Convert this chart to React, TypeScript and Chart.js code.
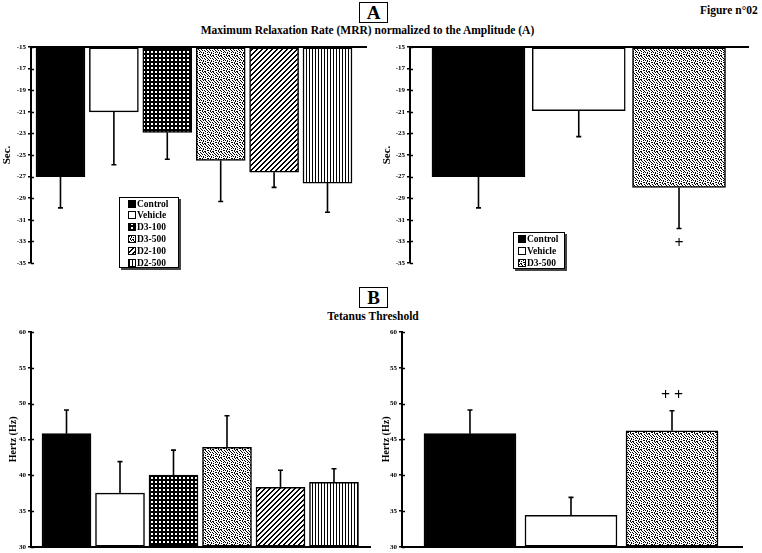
import React, { useEffect, useRef } from "react";
import { Chart, registerables } from "chart.js";

Chart.register(...registerables);

// ---------- data ----------
const groups6 = ["Control", "Vehicle", "D3-100", "D3-500", "D2-100", "D2-500"];
const groups3 = ["Control", "Vehicle", "D3-500"];

const mrrMeans6 = [-27.0, -21.0, -22.9, -25.5, -26.6, -27.6];
const mrrErrEnds6 = [-29.9, -25.9, -25.4, -29.3, -28.0, -30.3];
const mrrMeans3 = [-27.0, -20.9, -28.0];
const mrrErrEnds3 = [-29.9, -23.3, -31.8];
const mrrSig3 = ["", "", "+"];

const tetMeans6 = [45.8, 37.5, 40.0, 43.9, 38.3, 39.0];
const tetErrEnds6 = [49.1, 41.9, 43.5, 48.3, 40.7, 40.9];
const tetMeans3 = [45.8, 34.4, 46.2];
const tetErrEnds3 = [49.1, 36.9, 49.0];
const tetSig3 = ["", "", "++"];

const mrrTicks = [-15, -17, -19, -21, -23, -25, -27, -29, -31, -33, -35];
const tetTicks = [60, 55, 50, 45, 40, 35, 30];

// ---------- styles ----------
const SERIF = '"Liberation Serif", "Times New Roman", serif';

const patternRows: Record<string, string[]> = {
  "D3-100": [".XX.", "XXXX", "XXXX", ".XX."],
  "D3-500": [
    "X..X.X..",
    ".X....X.",
    "..X.X..X",
    "X....X..",
    ".X.X...X",
    "...X.X..",
    "X.X....X",
    "..X.XX..",
  ],
  "D2-100": ["XX...", "X...X", "...XX", "..XX.", ".XX.."],
  "D2-500": ["X.."],
};

function fillFor(ctx: CanvasRenderingContext2D, group: string): string | CanvasPattern {
  if (group === "Control") return "#000";
  if (group === "Vehicle") return "#fff";
  const rows = patternRows[group];
  const c = document.createElement("canvas");
  c.width = rows[0].length;
  c.height = rows.length;
  const t = c.getContext("2d")!;
  t.fillStyle = "#fff";
  t.fillRect(0, 0, c.width, c.height);
  t.fillStyle = "#000";
  rows.forEach((r, y) =>
    r.split("").forEach((ch, x) => {
      if (ch === "X") t.fillRect(x, y, 1, 1);
    })
  );
  return ctx.createPattern(c, "repeat")!;
}

const errorBarsPlugin = {
  id: "errorBars",
  afterDatasetsDraw(chart: any, _args: any, opts: any) {
    const { ctx } = chart;
    const y = chart.scales.y;
    const meta = chart.getDatasetMeta(0);
    ctx.save();
    ctx.strokeStyle = "#000";
    ctx.fillStyle = "#000";
    ctx.lineWidth = 1.6;
    meta.data.forEach((bar: any, i: number) => {
      const x = bar.x;
      const y0 = y.getPixelForValue(opts.means[i]);
      const y1 = y.getPixelForValue(opts.ends[i]);
      ctx.beginPath();
      ctx.moveTo(x, y0);
      ctx.lineTo(x, y1);
      ctx.moveTo(x - 2.5, y1);
      ctx.lineTo(x + 2.5, y1);
      ctx.stroke();
      const s = opts.sig ? opts.sig[i] : "";
      if (s) {
        const dir = y1 > y0 ? 1 : -1;
        ctx.font = `bold 16px ${SERIF}`;
        ctx.textAlign = "center";
        ctx.textBaseline = "middle";
        ctx.fillText(s.split("").join(" "), x, y1 + dir * 15);
      }
    });
    ctx.restore();
  },
};

const crossTicksPlugin = {
  id: "crossTicks",
  afterDraw(chart: any) {
    const { ctx, chartArea } = chart;
    const y = chart.scales.y;
    ctx.save();
    ctx.strokeStyle = "#000";
    ctx.lineWidth = 1.5;
    y.ticks.forEach((t: any) => {
      const py = Math.round(y.getPixelForValue(t.value)) + 0.5;
      ctx.beginPath();
      ctx.moveTo(chartArea.left, py);
      ctx.lineTo(chartArea.left + 3, py);
      ctx.stroke();
    });
    ctx.restore();
  },
};

const boxLegendPlugin = {
  id: "boxLegend",
  afterDraw(chart: any, _args: any, opts: any) {
    if (!opts || !opts.labels) return;
    const { ctx } = chart;
    const { x, y, w, h, rowH, first, pad, fills, labels } = opts;
    ctx.save();
    ctx.fillStyle = "#444";
    ctx.fillRect(x + 2, y + 2, w, h);
    ctx.fillStyle = "#fff";
    ctx.fillRect(x, y, w, h);
    ctx.strokeStyle = "#000";
    ctx.lineWidth = 1;
    ctx.strokeRect(x + 0.5, y + 0.5, w - 1, h - 1);
    ctx.font = `bold 9.5px ${SERIF}`;
    ctx.textBaseline = "middle";
    ctx.textAlign = "left";
    labels.forEach((lab: string, i: number) => {
      const cy = Math.round(y + first + i * rowH);
      ctx.fillStyle = fills[i];
      ctx.fillRect(x + pad, cy - 4, 8, 8);
      ctx.strokeStyle = "#000";
      ctx.strokeRect(x + pad + 0.5, cy - 3.5, 7, 7);
      ctx.fillStyle = "#000";
      ctx.fillText(lab, x + pad + 9, cy + 0.5);
    });
    ctx.restore();
  },
};

type PanelProps = {
  left: number;
  top: number;
  width: number;
  height: number;
  groups: string[];
  means: number[];
  ends: number[];
  sig?: string[];
  ticks: number[];
  base: number;
  xMin: number;
  xMax: number;
  xPos: "top" | "bottom";
  barThickness: number;
  yWidth: number;
  padding: { top: number; right: number; bottom: number; left: number };
  yTitle: string;
  yTitleSize: number;
  yTitlePad: number;
  legend?: { x: number; y: number; w: number; h: number; rowH: number; first: number; pad: number };
};

function BarPanel(p: PanelProps) {
  const ref = useRef<HTMLCanvasElement | null>(null);
  useEffect(() => {
    const canvas = ref.current!;
    const ctx = canvas.getContext("2d")!;
    const fills = p.groups.map((g) => fillFor(ctx, g));
    const tMin = Math.min(...p.ticks);
    const tMax = Math.max(...p.ticks);
    const chart = new Chart(ctx, {
      type: "bar",
      data: {
        labels: p.groups,
        datasets: [
          {
            data: p.means.map((v, i) => ({ x: i, y: v })) as any,
            base: p.base,
            backgroundColor: fills as any,
            borderColor: "#000",
            borderWidth: 1.5,
            borderSkipped: false,
            barThickness: p.barThickness,
          } as any,
        ],
      },
      options: {
        animation: false,
        responsive: false,
        maintainAspectRatio: false,
        layout: { padding: p.padding },
        plugins: {
          legend: { display: false },
          tooltip: { enabled: false },
          errorBars: { means: p.means, ends: p.ends, sig: p.sig },
          boxLegend: p.legend ? { ...p.legend, labels: p.groups, fills } : {},
        } as any,
        scales: {
          x: {
            type: "linear",
            position: p.xPos,
            min: p.xMin,
            max: p.xMax,
            offset: false,
            ticks: { display: false },
            grid: { display: false },
            border: { display: true, color: "#000", width: 2 },
            afterFit: (s: any) => {
              s.height = 0;
            },
          },
          y: {
            type: "linear",
            min: tMin,
            max: tMax,
            afterBuildTicks: (s: any) => {
              s.ticks = p.ticks.map((v) => ({ value: v }));
            },
            ticks: {
              color: "#000",
              font: { family: SERIF, size: 7, weight: "bold" },
              padding: 2,
            },
            grid: { drawOnChartArea: false, color: "#000", lineWidth: 1.5, tickLength: 3 },
            border: { display: true, color: "#000", width: 2 },
            title: {
              display: true,
              text: p.yTitle,
              color: "#000",
              font: { family: SERIF, size: p.yTitleSize, weight: "bold" },
              padding: { top: p.yTitlePad, bottom: 0 },
            },
            afterFit: (s: any) => {
              s.width = p.yWidth;
            },
          },
        } as any,
      },
      plugins: [errorBarsPlugin, crossTicksPlugin, boxLegendPlugin],
    });
    return () => chart.destroy();
  }, []);
  return (
    <canvas
      ref={ref}
      width={p.width}
      height={p.height}
      style={{ position: "absolute", left: p.left, top: p.top, width: p.width, height: p.height }}
    />
  );
}

const letterBox = (letter: string, left: number, top: number) => (
  <div
    style={{
      position: "absolute",
      left,
      top,
      width: 29,
      height: 21,
      boxSizing: "border-box",
      border: "1.5px solid #000",
      fontFamily: SERIF,
      fontWeight: "bold",
      fontSize: 19,
      lineHeight: "19px",
      textAlign: "center",
    }}
  >
    {letter}
  </div>
);

const titleStyle = (top: number, center: number): React.CSSProperties => ({
  position: "absolute",
  left: center - 300,
  width: 600,
  top,
  textAlign: "center",
  fontFamily: SERIF,
  fontWeight: "bold",
  fontSize: 11.5,
  lineHeight: "13px",
  whiteSpace: "nowrap",
});

export default function App() {
  return (
    <div
      style={{
        position: "absolute",
        left: 0,
        top: 0,
        width: 762,
        height: 553,
        background: "#fff",
        overflow: "hidden",
      }}
    >
      <div
        style={{
          position: "absolute",
          left: 700,
          top: 4,
          fontFamily: SERIF,
          fontWeight: "bold",
          fontSize: 11.5,
          lineHeight: "13px",
          whiteSpace: "nowrap",
        }}
      >
        Figure n°02
      </div>
      {letterBox("A", 359, 2)}
      <div style={titleStyle(24, 367.5)}>Maximum Relaxation Rate (MRR) normalized to the Amplitude (A)</div>
      {letterBox("B", 359, 287)}
      <div style={titleStyle(310, 373)}>Tetanus Threshold</div>

      <BarPanel
        left={0}
        top={40}
        width={372}
        height={236}
        groups={groups6}
        means={mrrMeans6}
        ends={mrrErrEnds6}
        ticks={mrrTicks}
        base={-15}
        xMin={-0.552}
        xMax={5.721}
        xPos="top"
        barThickness={49}
        yWidth={31}
        padding={{ top: 7, right: 6, bottom: 13, left: 0 }}
        yTitle="Sec."
        yTitleSize={11}
        yTitlePad={1}
        legend={{ x: 119, y: 157, w: 60, h: 71, rowH: 11.8, first: 6.5, pad: 9 }}
      />
      <BarPanel
        left={380}
        top={40}
        width={382}
        height={236}
        groups={groups3}
        means={mrrMeans3}
        ends={mrrErrEnds3}
        sig={mrrSig3}
        ticks={mrrTicks}
        base={-15}
        xMin={-0.683}
        xMax={2.688}
        xPos="top"
        barThickness={93}
        yWidth={30}
        padding={{ top: 7, right: 14, bottom: 13, left: 0 }}
        yTitle="Sec."
        yTitleSize={11}
        yTitlePad={1}
        legend={{ x: 133, y: 192, w: 52, h: 37, rowH: 12, first: 6.5, pad: 5 }}
      />
      <BarPanel
        left={0}
        top={322}
        width={376}
        height={231}
        groups={groups6}
        means={tetMeans6}
        ends={tetErrEnds6}
        ticks={tetTicks}
        base={30}
        xMin={-0.6636}
        xMax={5.673}
        xPos="bottom"
        barThickness={49}
        yWidth={31}
        padding={{ top: 10, right: 6, bottom: 6, left: 0 }}
        yTitle="Hertz (Hz)"
        yTitleSize={10}
        yTitlePad={7}
      />
      <BarPanel
        left={380}
        top={322}
        width={382}
        height={231}
        groups={groups3}
        means={tetMeans3}
        ends={tetErrEnds3}
        sig={tetSig3}
        ticks={tetTicks}
        base={30}
        xMin={-0.673}
        xMax={2.693}
        xPos="bottom"
        barThickness={92}
        yWidth={22}
        padding={{ top: 10, right: 20, bottom: 6, left: 0 }}
        yTitle="Hertz (Hz)"
        yTitleSize={10}
        yTitlePad={0}
      />
    </div>
  );
}
